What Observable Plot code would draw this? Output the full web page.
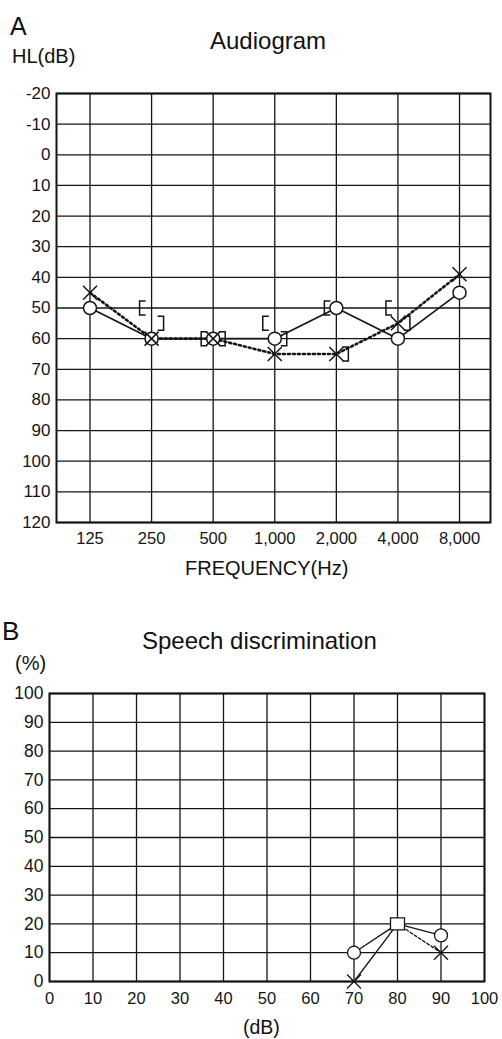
<!DOCTYPE html>
<html><head><meta charset="utf-8">
<script src="https://cdn.jsdelivr.net/npm/d3@7"></script>
<script src="https://cdn.jsdelivr.net/npm/@observablehq/plot@0.6"></script>
<style>
body{margin:0;background:#fff;font-family:"Liberation Sans",Arial,sans-serif;}
#wrap{position:relative;width:502px;height:1039px;overflow:hidden;background:#fff;}
.t{position:absolute;white-space:nowrap;color:#111;line-height:1;}
.c{position:absolute;left:0;}
</style></head><body>
<div id="wrap">
  <div id="a" class="c" style="top:0"></div>
  <div id="b" class="c" style="top:600px"></div>
  <div class="t" style="left:10px;top:14px;font-size:25px">A</div>
  <div class="t" style="left:210px;top:29px;font-size:24px">Audiogram</div>
  <div class="t" style="left:12px;top:46px;font-size:20px">HL(dB)</div>
  <div class="t" style="left:185px;top:558px;font-size:20px">FREQUENCY(Hz)</div>
  <div class="t" style="left:2px;top:618px;font-size:26px">B</div>
  <div class="t" style="left:142px;top:629px;font-size:24px">Speech discrimination</div>
  <div class="t" style="left:15px;top:653px;font-size:20px">(%)</div>
  <div class="t" style="left:243px;top:1018px;font-size:19.5px">(dB)</div>
</div>
<script>
// ---- data ----
const freqs = [125, 250, 500, 1000, 2000, 4000, 8000];
const hlTicks = [-20, -10, 0, 10, 20, 30, 40, 50, 60, 70, 80, 90, 100, 110, 120];
const rightAC = [50, 60, 60, 60, 50, 60, 45];
const leftAC = [45, 60, 60, 65, 65, 55, 39];
const bcFreqs = [250, 500, 1000, 2000, 4000];
const rightBC = [50, 60, 55, 50, 50];
const leftBC = [55, 60, 60, 65, 55];

const sdLevels = [70, 80, 90];
const rightSD = [10, 20, 16];
const leftSD = [0, 20, 10];
const sdTicks = [0, 10, 20, 30, 40, 50, 60, 70, 80, 90, 100];

// ---- tables (frequency placed on an octave axis, 0 = 125 Hz) ----
const oct = f => Math.log2(f / 125);
const acR = freqs.map((f, i) => ({o: oct(f), v: rightAC[i]}));
const acL = freqs.map((f, i) => ({o: oct(f), v: leftAC[i]}));
const bcR = bcFreqs.map((f, i) => ({o: oct(f), v: rightBC[i]}));
const bcL = bcFreqs.map((f, i) => ({o: oct(f), v: leftBC[i]}));
const freqOct = freqs.map(oct);
const sdR = sdLevels.map((x, i) => ({x, v: rightSD[i]}));
const sdL = sdLevels.map((x, i) => ({x, v: leftSD[i]}));

const ink = "#151515";
const font = "'Liberation Sans', Arial, sans-serif";

const crossSym = {draw(ctx) { const r = 7; ctx.moveTo(-r, -r); ctx.lineTo(r, r); ctx.moveTo(r, -r); ctx.lineTo(-r, r); }};
const bracketL = {draw(ctx) { const x = -12, w = 6, h = 7; ctx.moveTo(x + w, -h); ctx.lineTo(x, -h); ctx.lineTo(x, h); ctx.lineTo(x + w, h); }};
const bracketR = {draw(ctx) { const x = 12, w = 6, h = 7; ctx.moveTo(x - w, -h); ctx.lineTo(x, -h); ctx.lineTo(x, h); ctx.lineTo(x - w, h); }};
const squareSym = {draw(ctx) { const w = 7, h = 6; ctx.moveTo(-w, -h); ctx.lineTo(w, -h); ctx.lineTo(w, h); ctx.lineTo(-w, h); ctx.closePath(); }};

// ---- Chart A ----
const chartA = Plot.plot({
  width: 502, height: 600,
  marginTop: 93, marginBottom: 78, marginLeft: 56, marginRight: 12,
  style: {fontFamily: font, color: ink, background: "transparent"},
  x: {domain: [-0.544, 6.503]},
  y: {domain: [-20, 120], reverse: true},
  marks: [
    Plot.ruleY(hlTicks, {stroke: ink, strokeWidth: 1.3}),
    Plot.ruleX(freqOct, {stroke: ink, strokeWidth: 1.3}),
    Plot.frame({stroke: ink, strokeWidth: 2}),
    Plot.axisY(hlTicks, {anchor: "left", tickSize: 0, tickPadding: 6, fontSize: 17, tickFormat: d => String(d), label: null}),
    Plot.axisX(freqOct, {anchor: "bottom", tickSize: 0, tickPadding: 10, fontSize: 16.5, tickFormat: d => d3.format(",")(Math.round(125 * 2 ** d)), label: null}),
    Plot.line(acL, {x: "o", y: "v", stroke: ink, strokeWidth: 2.6, strokeDasharray: "2,3"}),
    Plot.line(acR, {x: "o", y: "v", stroke: ink, strokeWidth: 1.7}),
    Plot.dot(bcR, {x: "o", y: "v", symbol: bracketL, r: 5, fill: "none", stroke: ink, strokeWidth: 1.5}),
    Plot.dot(bcL, {x: "o", y: "v", symbol: bracketR, r: 5, fill: "none", stroke: ink, strokeWidth: 1.5}),
    Plot.dot(acR, {x: "o", y: "v", r: 6.5, fill: "white", stroke: ink, strokeWidth: 1.5}),
    Plot.dot(acL, {x: "o", y: "v", symbol: crossSym, r: 5, fill: "none", stroke: ink, strokeWidth: 1.5})
  ]
});
document.getElementById("a").appendChild(chartA);

// ---- Chart B ----
const chartB = Plot.plot({
  width: 502, height: 439,
  marginTop: 93, marginBottom: 58, marginLeft: 49, marginRight: 18,
  style: {fontFamily: font, color: ink, background: "transparent"},
  x: {domain: [0, 100]},
  y: {domain: [0, 100]},
  marks: [
    Plot.ruleY(sdTicks, {stroke: ink, strokeWidth: 1.3}),
    Plot.ruleX(sdTicks, {stroke: ink, strokeWidth: 1.3}),
    Plot.frame({stroke: ink, strokeWidth: 2}),
    Plot.axisY(sdTicks, {anchor: "left", tickSize: 0, tickPadding: 6, fontSize: 17.5, label: null}),
    Plot.axisX(sdTicks, {anchor: "bottom", tickSize: 0, tickPadding: 11, fontSize: 16.5, label: null}),
    Plot.line(sdR, {x: "x", y: "v", stroke: ink, strokeWidth: 1.3}),
    Plot.line(sdL.filter(d => d.x <= 80), {x: "x", y: "v", stroke: ink, strokeWidth: 1.3}),
    Plot.line(sdL.filter(d => d.x >= 80), {x: "x", y: "v", stroke: ink, strokeWidth: 1.3, strokeDasharray: "3,2"}),
    Plot.dot(sdR.filter(d => d.x !== 80), {x: "x", y: "v", r: 6.5, fill: "white", stroke: ink, strokeWidth: 1.3}),
    Plot.dot(sdL.filter(d => d.x !== 80), {x: "x", y: "v", symbol: crossSym, r: 5, fill: "none", stroke: ink, strokeWidth: 1.3}),
    Plot.dot(sdR.filter(d => d.x === 80), {x: "x", y: "v", symbol: squareSym, r: 5, fill: "white", stroke: ink, strokeWidth: 1.3})
  ]
});
document.getElementById("b").appendChild(chartB);
</script>
</body></html>
